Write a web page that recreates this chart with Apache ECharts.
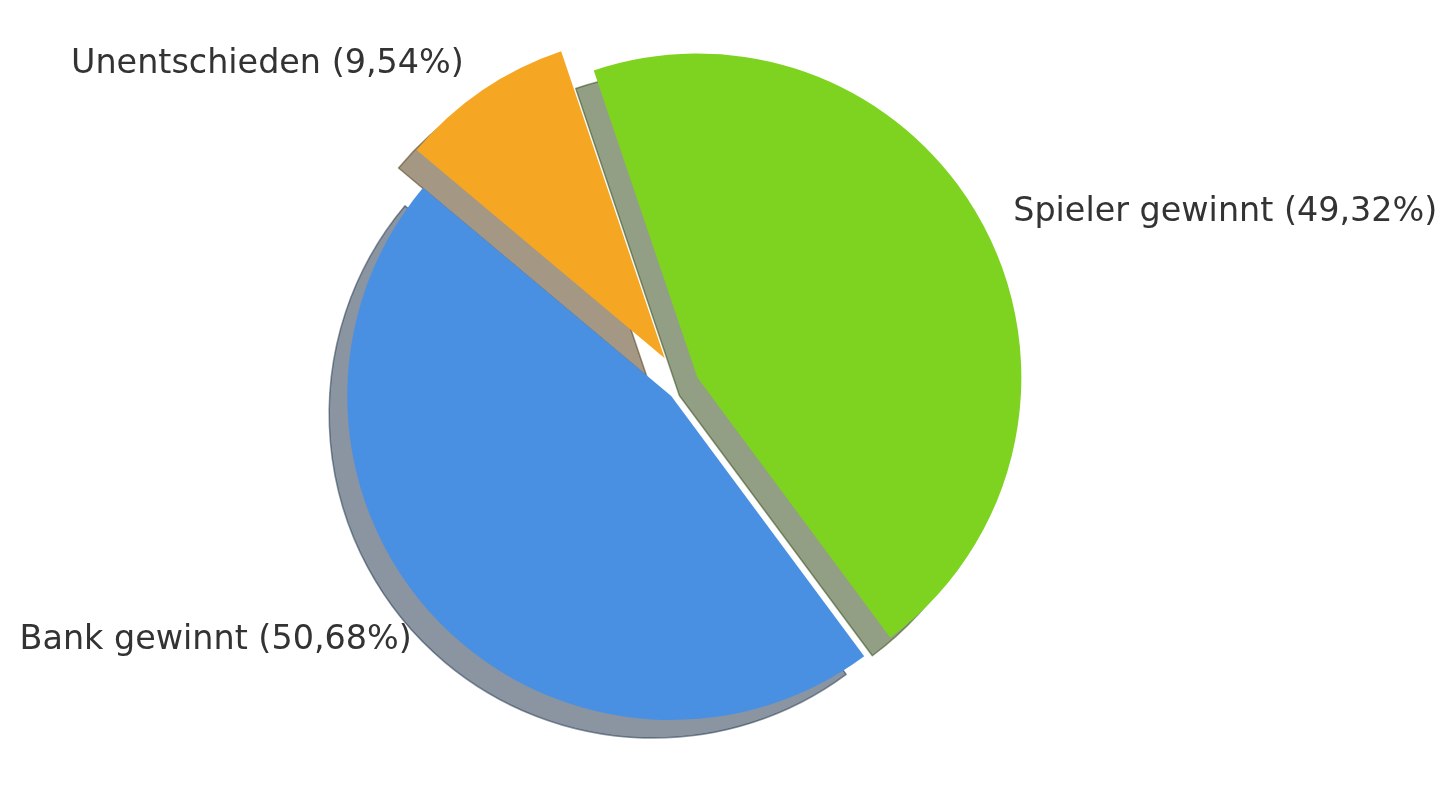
<!DOCTYPE html>
<html>
<head>
<meta charset="utf-8">
<script src="https://cdn.jsdelivr.net/npm/echarts@6/dist/echarts.min.js"></script>
<style>
html,body{margin:0;padding:0;background:#ffffff;}
#chart{width:1456px;height:787px;}
</style>
</head>
<body>
<div id="chart"></div>
<script>
const categories = ['Bank gewinnt', 'Spieler gewinnt', 'Unentschieden'];
const values = [50.68, 49.32, 9.54];
const explode = [0.05, 0.05, 0.1];
const colors = ['#4A90E2', '#7ED321', '#F5A623'];
const startAngle = 140;

const R = 324;
const CX = 683, CY = 385;
const SHADOW_DX = -18, SHADOW_DY = 18;

function fmt(v) { return v.toFixed(2).replace('.', ',') + '%'; }
function shade(hex) {
  const n = parseInt(hex.slice(1), 16);
  const r = Math.round(((n >> 16) & 255) * 0.3);
  const g = Math.round(((n >> 8) & 255) * 0.3);
  const b = Math.round((n & 255) * 0.3);
  return 'rgba(' + r + ',' + g + ',' + b + ',0.5)';
}

function makeSeries(target, isShadow) {
  const data = categories.map((name, i) => {
    const visible = i === target;
    return {
      name: name,
      value: values[i],
      selected: visible,
      itemStyle: visible
        ? (isShadow
            ? { color: shade(colors[i]), borderColor: shade(colors[i]), borderWidth: 1.5 }
            : { color: colors[i], borderWidth: 0 })
        : { color: 'rgba(0,0,0,0)', borderWidth: 0 },
      label: { show: visible && !isShadow }
    };
  });
  return {
    type: 'pie',
    z: isShadow ? 1 : 2,
    silent: true,
    animation: false,
    startAngle: startAngle,
    clockwise: false,
    radius: R,
    center: isShadow ? [CX + SHADOW_DX, CY + SHADOW_DY] : [CX, CY],
    selectedMode: 'multiple',
    selectedOffset: explode[target] * R,
    avoidLabelOverlap: false,
    emphasis: { disabled: true },
    label: {
      position: 'outside',
      formatter: p => p.name + ' (' + fmt(p.value) + ')',
      fontFamily: 'DejaVu Sans',
      fontSize: 33.4,
      color: '#333333',
      padding: [4, 0, 0, 0],
      distanceToLabelLine: 0
    },
    labelLine: { show: false, length: 0.1 * R, length2: 0 },
    data: data
  };
}

const series = [];
categories.forEach((c, i) => series.push(makeSeries(i, true)));
categories.forEach((c, i) => series.push(makeSeries(i, false)));

const chart = echarts.init(document.getElementById('chart'));
chart.setOption({
  backgroundColor: '#ffffff',
  animation: false,
  series: series
});
</script>
</body>
</html>
